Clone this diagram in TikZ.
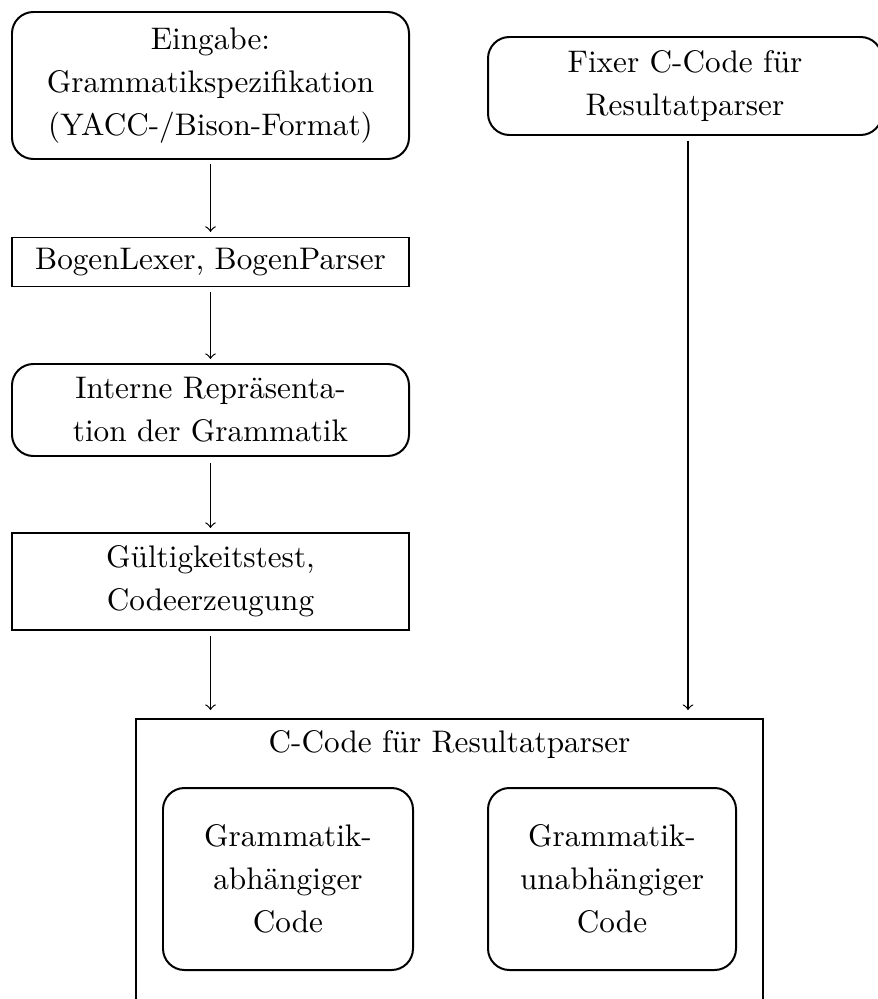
\documentclass[tikz,border=0pt]{standalone}
\begin{document}
\begin{tikzpicture}[x=0.3268pt, y=-0.3268pt,
  base/.style={draw, line width=0.65pt, align=center, inner sep=0pt,
    font=\fontsize{10.2}{14}\selectfont},
  roundbox/.style={base, rounded corners=7pt},
  sqbox/.style={base},
  flow/.style={->, line width=0.4pt}]
\useasboundingbox (0,0) rectangle (877,999);
\node[roundbox, minimum width=397*0.3268pt, minimum height=147*0.3268pt] (in1) at (210.5,85.5)
  {Eingabe:\\Grammatikspezifikation\\(YACC-/Bison-Format)};
\node[sqbox, minimum width=397*0.3268pt, minimum height=49*0.3268pt] (lex) at (210.5,262)
  {BogenLexer, BogenParser};
\node[roundbox, minimum width=397*0.3268pt, minimum height=92*0.3268pt] (rep) at (210.5,410)
  {Interne Repräsenta-\\tion der Grammatik};
\node[sqbox, minimum width=397*0.3268pt, minimum height=97*0.3268pt] (gue) at (210.5,581.5)
  {Gültigkeitstest,\\Codeerzeugung};
\node[roundbox, minimum width=394*0.3268pt, minimum height=98*0.3268pt] (fix) at (685,86)
  {Fixer C-Code für\\Resultatparser};
\node[sqbox, minimum width=627*0.3268pt, minimum height=362*0.3268pt] (big) at (449.5,900) {};
\node[font=\fontsize{10.2}{14}\selectfont, inner sep=0pt] (title) at (449.5,745) {C-Code für Resultatparser};
\node[roundbox, minimum width=250*0.3268pt, minimum height=182*0.3268pt] (dep) at (288,879)
  {Grammatik-\\abhängiger\\Code};
\node[roundbox, minimum width=248*0.3268pt, minimum height=182*0.3268pt] (indep) at (612,879)
  {Grammatik-\\unabhängiger\\Code};
\draw[flow, shorten <=1.3pt, shorten >=1.5pt] (in1.south) -- (lex.north);
\draw[flow, shorten <=1.6pt, shorten >=1.3pt] (lex.south) -- (rep.north);
\draw[flow, shorten <=2pt, shorten >=1.3pt] (rep.south) -- (gue.north);
\draw[flow, shorten <=1.6pt, shorten >=2.6pt] (gue.south) -- (gue.south |- big.north);
\draw[flow, shorten <=1.6pt, shorten >=2.6pt] ([xshift=3*0.3268pt]fix.south) -- ([xshift=3*0.3268pt]fix.south |- big.north);
\end{tikzpicture}
\end{document}
